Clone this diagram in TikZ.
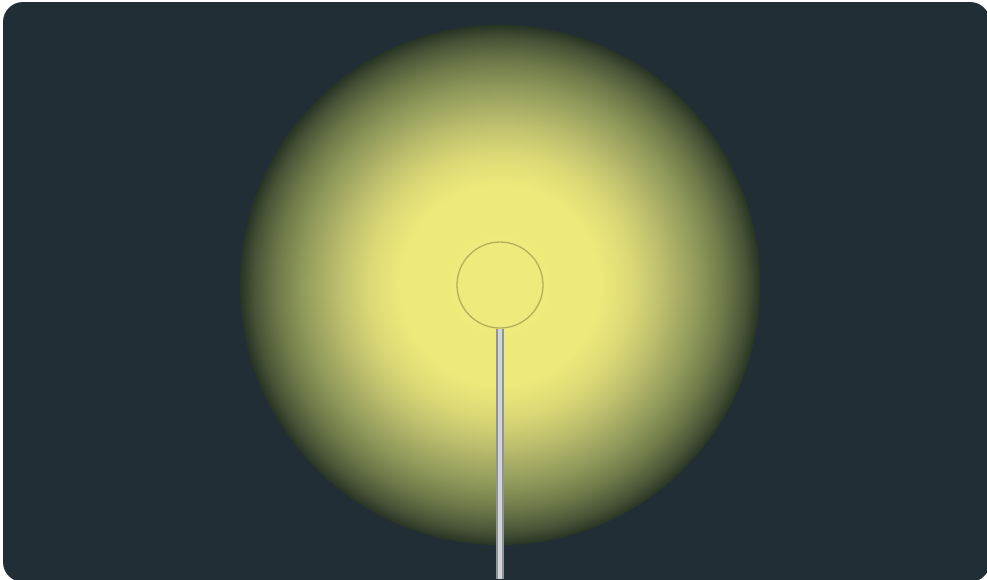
\documentclass[tikz,border=0pt]{standalone}
\definecolor{bg}{HTML}{222E35}
\definecolor{gA}{HTML}{EFEB7B}
\definecolor{gB}{HTML}{EDE97A}
\definecolor{gC}{HTML}{DCDA76}
\definecolor{gD}{HTML}{BFC06E}
\definecolor{gE}{HTML}{8E985A}
\definecolor{gF}{HTML}{6C7848}
\definecolor{gG}{HTML}{4A5538}
\definecolor{gH}{HTML}{283524}
\definecolor{ring}{HTML}{B3B05A}
\definecolor{stemedge}{HTML}{8E959A}
\definecolor{stemcore}{HTML}{D4D4D4}
\pgfdeclareradialshading{glow}{\pgfpoint{0bp}{0bp}}{color(0bp)=(gA); color(9.6bp)=(gB); color(12.5bp)=(gC); color(15.4bp)=(gD); color(19.2bp)=(gE); color(21.6bp)=(gF); color(23.6bp)=(gG); color(25bp)=(gH); color(50bp)=(gH)}
\tikzset{
  sunbody/.style={circle, minimum size=520pt, inner sep=0pt, shade, shading=glow},
  corering/.style={circle, draw=ring, line width=1.3pt, minimum size=86pt, inner sep=0pt},
  stemout/.style={draw=stemedge, line width=8pt},
  stemin/.style={draw=stemcore, line width=4.5pt}
}
\begin{document}
\begin{tikzpicture}[x=1pt,y=-1pt]
\useasboundingbox (0,0) rectangle (987,579);
\fill[white] (0,0) rectangle (987,579);
\fill[bg, rounded corners=20pt] (3,2) rectangle (990,582);
\node[sunbody] (sun) at (500,285) {};
\node[corering] (core) at (500,285) {};
\coordinate (foot) at (500,579);
\draw[stemout] (core.south) -- (foot);
\draw[stemin] (core.south) -- (foot);
\end{tikzpicture}
\end{document}
